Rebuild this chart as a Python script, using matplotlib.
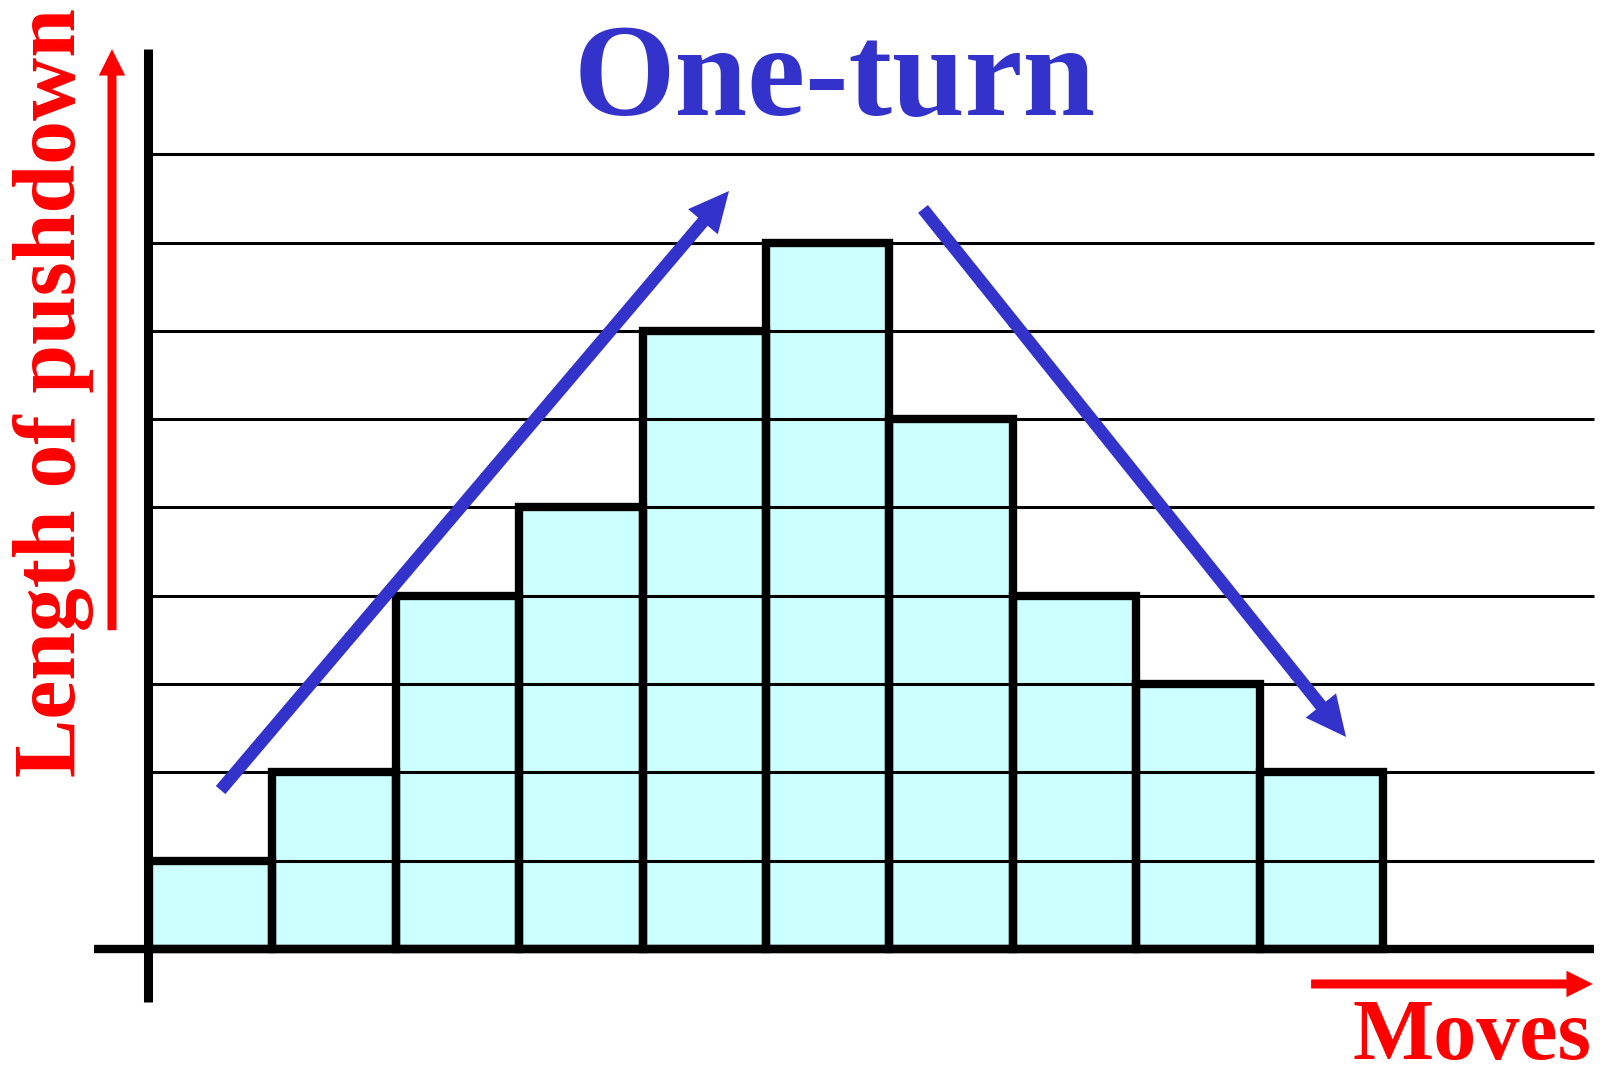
import matplotlib
matplotlib.use('Agg')
import matplotlib.pyplot as plt
from matplotlib.patches import FancyArrowPatch

# pushdown length after each move
moves = list(range(10))
heights = [1, 2, 4, 5, 7, 8, 6, 4, 3, 2]
grid_levels = list(range(1, 10))

title = 'One-turn'
ylabel = 'Length of pushdown'
xlabel = 'Moves'

BLUE = '#3333CC'
RED = '#FF0000'
FILL = '#CCFFFF'

plt.rcParams['font.family'] = ['Liberation Serif', 'DejaVu Serif']

fig = plt.figure(figsize=(16, 10.66), dpi=100)
ax = fig.add_axes([0, 0, 1, 1])
ax.set_xlim(-1.2075, 11.758)
ax.set_ylim(-1.325, 10.747)
ax.axis('off')

# bars: fill, then grid lines, then outlines
ax.bar([m + 0.5 for m in moves], heights, width=1.0, color=FILL, edgecolor='none', zorder=1)
ax.hlines(grid_levels, 0.0, 11.71, color='black', lw=2.2, zorder=2)
ax.bar([m + 0.5 for m in moves], heights, width=1.0, fill=False, edgecolor='black', lw=6, zorder=3)

# axes lines
ax.plot([-0.445, 11.71], [0, 0], color='black', lw=6, solid_capstyle='butt', zorder=4)
ax.plot([-0.01, -0.01], [-0.6, 10.19], color='black', lw=6.5, solid_capstyle='butt', zorder=4)


def arrow(p0, p1, color, lw, hl, hw):
    # shaft and head drawn apart so the head keeps its size
    shaft = FancyArrowPatch(p0, p1, arrowstyle='-', mutation_scale=1, color=color, lw=lw,
                            shrinkA=0, shrinkB=hl * 0.6, capstyle='butt', zorder=6)
    head = FancyArrowPatch(p0, p1, arrowstyle=f'-|>,head_length={hl},head_width={hw}',
                           mutation_scale=1, color=color, lw=0, shrinkA=0, shrinkB=0, zorder=6)
    ax.add_patch(shaft)
    ax.add_patch(head)


# trend arrows
arrow((0.58, 1.80), (4.70, 8.584), BLUE, 9, 29, 14)
arrow((6.272, 8.381), (9.70, 2.401), BLUE, 9, 29, 14)

# axis direction arrows
arrow((-0.30, 3.61), (-0.30, 10.19), RED, 6.5, 19, 9.5)
arrow((9.417, -0.396), (11.70, -0.396), RED, 6.5, 19, 9.5)

ax.text(5.56, 9.445, title, color=BLUE, fontsize=94, fontweight='bold',
        ha='center', va='baseline')
ax.text(-0.77, 6.30, ylabel, color=RED, fontsize=63, fontweight='bold',
        rotation=90, ha='center', va='center')
ax.text(10.72, -1.246, xlabel, color=RED, fontsize=62, fontweight='bold',
        ha='center', va='baseline')

fig.savefig('out.png', dpi=100)
